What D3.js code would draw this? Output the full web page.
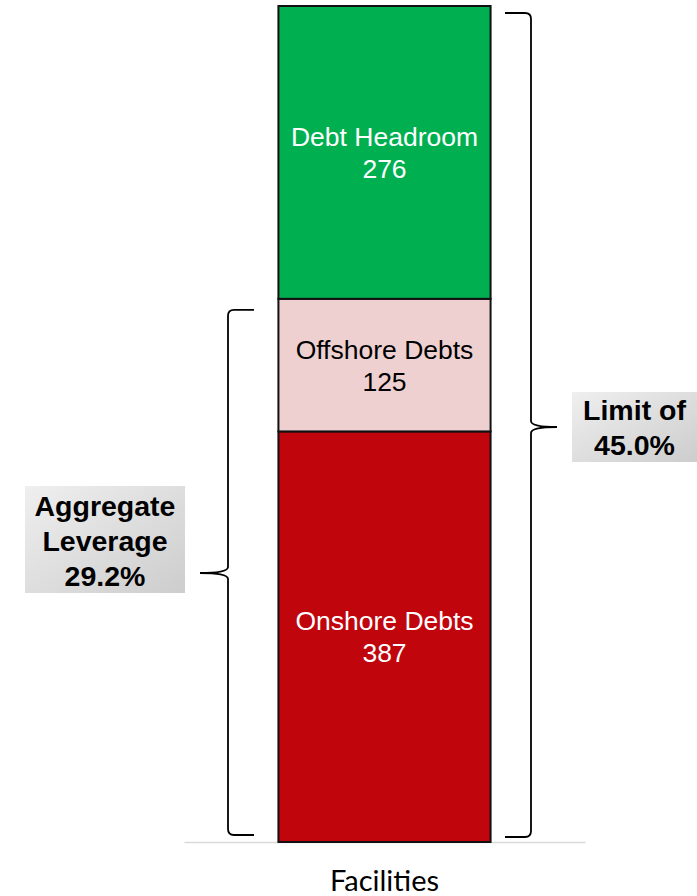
<!DOCTYPE html>
<html><head><meta charset="utf-8">
<script src="https://cdn.jsdelivr.net/npm/d3@7"></script>
<style>body{margin:0;background:#fff}svg{display:block}
.ar{font-family:"Liberation Sans","Arimo",Arial,Helvetica,sans-serif}
.fac{font-family:Lato,"Open Sans",sans-serif}
</style>
</head><body>
<script>
const categories = ["Facilities"];
const segments = ["Onshore Debts", "Offshore Debts", "Debt Headroom"];
const values = [387, 125, 276];
const colors = ["#c0050c", "#eed0d1", "#00b050"];
const textColors = ["#ffffff", "#000000", "#ffffff"];
const leverageLabel = ["Aggregate", "Leverage", "29.2%"];
const limitLabel = ["Limit of", "45.0%"];

const W = 697, H = 896;
const svg = d3.select("body").append("svg").attr("width", W).attr("height", H);
const defs = svg.append("defs");
const grad = defs.append("linearGradient").attr("id", "g1").attr("x1", "0").attr("y1", "0").attr("x2", "1").attr("y2", "1");
grad.append("stop").attr("offset", "0").attr("stop-color", "#efefef");
grad.append("stop").attr("offset", "1").attr("stop-color", "#cdcdcd");

const total = d3.sum(values);
const x = d3.scaleBand().domain(categories).range([184, 585]).padding(0.308);
const y = d3.scaleLinear().domain([0, total]).range([842, 6]);

let acc = 0;
const stack = values.map((v, i) => { const d = {name: segments[i], v, y0: acc, y1: acc + v, i}; acc += v; return d; });

// axis
const axis = svg.append("g").attr("transform", "translate(0,842)")
  .call(d3.axisBottom(x).tickSize(0).tickPadding(0));
axis.attr("font-family", null).attr("font-size", null);
axis.select(".domain").attr("stroke", "#d9d9d9").attr("stroke-width", 1.5);
axis.selectAll(".tick text").attr("class", "fac").attr("y", 49).attr("dy", 0)
  .style("font-size", "29px").attr("fill", "#000");

// bars
const bx = x(categories[0]), bw = x.bandwidth();
svg.append("g").selectAll("rect").data(stack).join("rect")
  .attr("x", bx).attr("width", bw)
  .attr("y", d => y(d.y1)).attr("height", d => y(d.y0) - y(d.y1))
  .attr("fill", d => colors[d.i]).attr("stroke", "#111").attr("stroke-width", 2);

// labels
const lbl = svg.append("g").attr("class", "ar").style("font-size", "26.5px").attr("text-anchor", "middle");
stack.forEach(d => {
  const cy = (y(d.y0) + y(d.y1)) / 2;
  const t = lbl.append("text").attr("fill", textColors[d.i]);
  t.append("tspan").attr("x", bx + bw / 2).attr("y", cy - 6.5).text(d.name);
  t.append("tspan").attr("x", bx + bw / 2).attr("y", cy + 25.5).text(d.v);
});

// braces
function brace(xv, ytop, ybot, ymid, dir, arm, tip) {
  const r = 6;
  const a = xv - dir * arm;
  const t = xv + dir * tip;
  const p = d3.path();
  p.moveTo(a, ytop);
  p.lineTo(xv - dir * r, ytop);
  p.quadraticCurveTo(xv, ytop, xv, ytop + r);
  p.lineTo(xv, ymid - 6);
  p.quadraticCurveTo(xv, ymid, t, ymid);
  p.quadraticCurveTo(xv, ymid, xv, ymid + 6);
  p.lineTo(xv, ybot - r);
  p.quadraticCurveTo(xv, ybot, xv - dir * r, ybot);
  p.lineTo(a, ybot);
  return p.toString();
}
const levTop = y(values[0] + values[1]);
svg.append("path").attr("d", brace(228, levTop + 11, y(0) - 7, 573, -1, 26, 28))
  .attr("fill", "none").attr("stroke", "#000").attr("stroke-width", 1.8);
svg.append("path").attr("d", brace(531, y(total) + 7, y(0) - 5, 427, 1, 26, 26))
  .attr("fill", "none").attr("stroke", "#000").attr("stroke-width", 1.8);

// callout boxes
function callout(x0, y0, w, h, lines, baseline0) {
  svg.append("rect").attr("x", x0).attr("y", y0).attr("width", w).attr("height", h).attr("fill", "url(#g1)");
  const t = svg.append("text").attr("class", "ar").style("font-weight", "bold")
    .style("font-size", "28.5px").attr("text-anchor", "middle").attr("fill", "#000");
  lines.forEach((l, i) => t.append("tspan").attr("x", x0 + w / 2).attr("y", baseline0 + i * 35).text(l));
}
callout(25, 486, 160, 107, leverageLabel, 516);
callout(572, 392, 125, 70, limitLabel, 420);
</script>
</body></html>
